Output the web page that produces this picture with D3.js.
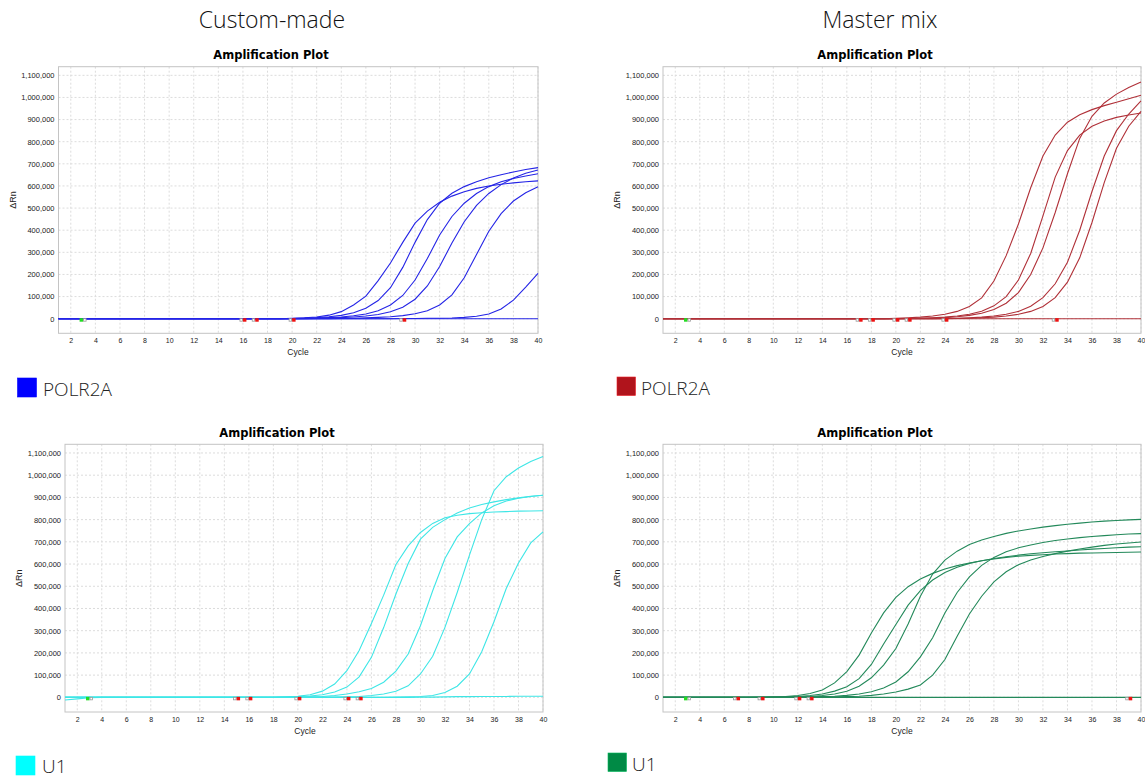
<!DOCTYPE html>
<html>
<head>
<meta charset="utf-8">
<script src="https://cdn.jsdelivr.net/npm/d3@7"></script>
<style>
  body { margin: 0; background: #fff; }
  svg { display: block; }
  .tick text { font-family: "Liberation Sans", Arial, sans-serif; fill: #222; }
</style>
</head>
<body>
<svg id="chart" width="1145" height="778"></svg>
<script>
// cycles 1..40 and axis ticks
const cycles = [1,2,3,4,5,6,7,8,9,10,11,12,13,14,15,16,17,18,19,20,21,22,23,24,25,26,27,28,29,30,31,32,33,34,35,36,37,38,39,40];
const xTicks = [2,4,6,8,10,12,14,16,18,20,22,24,26,28,30,32,34,36,38,40];
const yTicks = [0,100000,200000,300000,400000,500000,600000,700000,800000,900000,1000000,1100000];

// dRn per cycle, in thousands
// Custom-made, POLR2A
const customPolr2a = [
  [0,0,0,0,0,0,0,0,0,0,0,0,0,0,0,0,0,0,0,2,4,8,16,32,62,102,172,252,345,432,486,526,554,574,589,600,608,614,619,623],
  [0,0,0,0,0,0,0,0,0,0,0,0,0,0,0,0,0,0,0,1,3,5,9,15,27,47,82,140,232,345,448,522,567,597,619,637,651,663,674,683],
  [0,0,0,0,0,0,0,0,0,0,0,0,0,0,0,0,0,0,0,0,1,3,5,8,13,21,36,62,105,175,272,378,462,522,566,597,619,634,645,655],
  [0,0,0,0,0,0,0,0,0,0,0,0,0,0,0,0,0,0,0,0,0,1,3,5,8,12,19,31,52,88,148,236,342,438,512,566,606,636,657,672],
  [0,0,0,0,0,0,0,0,0,0,0,0,0,0,0,0,0,0,0,0,0,0,0,1,2,4,6,9,14,22,36,62,108,185,290,395,475,532,569,596],
  [0,0,0,0,0,0,0,0,0,0,0,0,0,0,0,0,0,0,0,0,0,0,0,0,0,0,0,0,1,1,2,2,3,6,11,21,44,84,143,205],
  [0,0,0,0,0,0,0,0,0,0,0,0,0,0,0,0,0,0,0,0,0,0,0,0,0,0,0,0,0,0,0,0,0,0,0,0,0,0,0,0]
];
// Master mix, POLR2A
const masterPolr2a = [
  [0,0,0,0,0,0,0,0,0,0,0,0,0,0,0,0,0,0,0,2,4,7,12,20,33,55,94,170,285,428,592,735,830,888,922,945,963,978,994,1010],
  [0,0,0,0,0,0,0,0,0,0,0,0,0,0,0,0,0,0,0,0,1,2,4,7,12,20,34,58,100,175,295,465,640,760,830,870,894,910,921,930],
  [0,0,0,0,0,0,0,0,0,0,0,0,0,0,0,0,0,0,0,0,1,2,3,5,9,15,25,42,70,118,200,320,480,655,815,915,975,1015,1045,1070],
  [0,0,0,0,0,0,0,0,0,0,0,0,0,0,0,0,0,0,0,0,0,0,0,1,2,4,7,12,20,33,56,95,158,255,400,575,735,850,925,984],
  [0,0,0,0,0,0,0,0,0,0,0,0,0,0,0,0,0,0,0,0,0,0,0,0,1,2,4,7,12,20,33,55,95,165,275,435,615,770,870,937],
  [0,0,0,0,0,0,0,0,0,0,0,0,0,0,0,0,0,0,0,0,0,0,0,0,0,0,0,0,0,0,0,0,0,0,0,0,0,0,0,0]
];
// Custom-made, U1
const customU1 = [
  [0,0,0,0,0,0,0,0,0,0,0,0,0,0,0,0,0,0,2,5,12,28,60,120,211,332,460,598,682,742,783,808,820,827,831,834,836,838,839,840],
  [0,0,0,0,0,0,0,0,0,0,0,0,0,0,0,0,0,0,1,3,6,12,24,46,92,180,314,465,602,712,765,800,830,852,868,880,890,898,905,910],
  [0,0,0,0,0,0,0,0,0,0,0,0,0,0,0,0,0,0,0,0,2,4,8,15,25,40,68,118,195,322,480,625,722,782,830,862,884,896,904,910],
  [0,0,0,0,0,0,0,0,0,0,0,0,0,0,0,0,0,0,0,0,0,0,1,2,4,8,15,27,52,105,185,315,472,640,800,930,993,1032,1062,1084],
  [-12,-7,-2,0,0,0,0,0,0,0,0,0,0,0,0,0,0,0,0,0,0,0,0,0,0,0,0,1,2,4,8,22,50,105,205,340,490,605,695,745],
  [0,0,0,0,0,0,0,0,0,0,0,0,0,0,0,0,0,0,0,0,0,0,0,0,0,0,0,0,0,1,1,2,3,3,4,4,4,5,5,5]
];
// Master mix, U1
const masterU1 = [
  [0,0,0,0,0,0,0,0,1,2,4,8,17,33,65,116,190,290,380,450,498,533,558,578,593,605,615,623,630,635,639,642,645,647,649,650,651,652,653,654],
  [0,0,0,0,0,0,0,0,0,1,2,4,8,15,28,48,84,148,240,328,415,480,528,562,586,603,615,625,633,640,646,651,655,659,663,667,670,673,676,678],
  [0,0,0,0,0,0,0,0,0,0,1,2,4,8,15,27,50,88,145,220,330,455,555,618,658,688,708,724,738,749,758,766,773,779,784,789,793,796,799,801],
  [0,0,0,0,0,0,0,0,0,0,0,1,2,3,5,9,15,25,42,69,115,182,268,380,472,542,594,630,655,673,686,697,706,713,719,724,728,732,735,737],
  [0,0,0,0,0,0,0,0,0,0,0,0,0,1,2,3,5,9,15,24,37,56,100,170,275,375,455,520,565,597,618,634,647,658,668,676,684,690,695,699],
  [0,0,0,0,0,0,0,0,0,0,0,0,0,0,0,0,0,0,0,0,0,0,0,0,0,0,0,0,0,0,0,0,0,0,0,0,0,0,0,0]
];

// Ct / baseline markers on the zero line
const customPolr2aMarks = [16, 17, 20, 29];
const masterPolr2aMarks = [17, 18, 20, 21, 24, 33];
const customU1Marks = [15, 16, 20, 24, 25];
const masterU1Marks = [7, 9, 12, 13, 39];
const startMark = 3;

const headers = ['Custom-made', 'Master mix'];
const legendNames = ['POLR2A', 'POLR2A', 'U1', 'U1'];

const svg = d3.select('#chart');

// Panels: plot frame, label positions, colors
const panels = [
  { curves: customPolr2a, marks: customPolr2aMarks, color: '#2424e6', legendColor: '#0000ff', name: legendNames[0],
    left: 58.5, right: 538, top: 66.7, bottom: 333.3, titleX: 271, titleY: 59, yLabelX: 13, cycleX: 298,
    legend: { x: 17.5, y: 378, s: 19, tx: 43, ty: 396, fs: 19 } },
  { curves: masterPolr2a, marks: masterPolr2aMarks, color: '#b03038', legendColor: '#b0141c', name: legendNames[1],
    left: 663, right: 1141, top: 66.7, bottom: 333.3, titleX: 875, titleY: 59, yLabelX: 617, cycleX: 902,
    legend: { x: 617, y: 377, s: 18.5, tx: 641, ty: 395, fs: 19 } },
  { curves: customU1, marks: customU1Marks, color: '#3ee6e6', legendColor: '#00ffff', name: legendNames[2],
    left: 65, right: 543, top: 444.3, bottom: 712, titleX: 277, titleY: 437, yLabelX: 19, cycleX: 305,
    legend: { x: 16, y: 756, s: 19, tx: 42, ty: 773, fs: 19 } },
  { curves: masterU1, marks: masterU1Marks, color: '#23895a', legendColor: '#008a45', name: legendNames[3],
    left: 663, right: 1141, top: 444.3, bottom: 712, titleX: 875, titleY: 437, yLabelX: 617, cycleX: 902,
    legend: { x: 608, y: 753, s: 18.5, tx: 632, ty: 771, fs: 19 } }
];

// column headers
svg.selectAll('text.header')
  .data(headers)
  .enter()
  .append('text')
  .attr('class', 'header')
  .attr('x', (d, i) => i === 0 ? 272 : 880)
  .attr('y', 28)
  .attr('text-anchor', 'middle')
  .style('font-family', '"Open Sans", "Noto Sans", sans-serif')
  .style('font-weight', 300)
  .style('font-size', '23px')
  .style('fill', '#111')
  .text(d => d);

panels.forEach(p => drawPanel(p));

function drawPanel(p) {
  const g = svg.append('g');

  const x = d3.scaleLinear().domain([1, 40]).range([p.left, p.right]);
  const y = d3.scaleLinear().domain([-66000, 1139000]).range([p.bottom, p.top]);

  // dashed grid
  g.selectAll('line.vgrid')
    .data(xTicks)
    .enter()
    .append('line')
    .attr('x1', d => x(d)).attr('x2', d => x(d))
    .attr('y1', p.top).attr('y2', p.bottom)
    .attr('stroke', '#dcdcdc')
    .attr('stroke-dasharray', '2,2');

  g.selectAll('line.hgrid')
    .data(yTicks)
    .enter()
    .append('line')
    .attr('x1', p.left).attr('x2', p.right)
    .attr('y1', d => y(d)).attr('y2', d => y(d))
    .attr('stroke', '#dcdcdc')
    .attr('stroke-dasharray', '2,2');

  // axes (labels only, frame drawn separately)
  const yAxis = g.append('g')
    .attr('transform', `translate(${p.left},0)`)
    .call(d3.axisLeft(y).tickValues(yTicks).tickFormat(d3.format(',')).tickSize(0).tickPadding(4));
  yAxis.select('.domain').remove();
  yAxis.selectAll('text').style('font-size', '7.5px');

  const xAxis = g.append('g')
    .attr('transform', `translate(0,${p.bottom})`)
    .call(d3.axisBottom(x).tickValues(xTicks).tickSize(0).tickPadding(5));
  xAxis.select('.domain').remove();
  xAxis.selectAll('text').style('font-size', '7px');

  // frame
  g.append('rect')
    .attr('x', p.left).attr('y', p.top)
    .attr('width', p.right - p.left).attr('height', p.bottom - p.top)
    .attr('fill', 'none')
    .attr('stroke', '#c4c4c4')
    .attr('stroke-width', 1);

  // title and axis labels
  g.append('text')
    .attr('x', p.titleX).attr('y', p.titleY)
    .attr('text-anchor', 'middle')
    .style('font-family', '"DejaVu Sans", Verdana, sans-serif')
    .style('font-weight', 'bold')
    .style('font-size', '11.5px')
    .style('fill', '#000')
    .text('Amplification Plot');

  g.append('text')
    .attr('x', p.cycleX).attr('y', p.bottom + 22)
    .attr('text-anchor', 'middle')
    .style('font-family', '"Liberation Sans", Arial, sans-serif')
    .style('font-size', '8.5px')
    .style('fill', '#222')
    .text('Cycle');

  g.append('text')
    .attr('transform', `translate(${p.yLabelX},${(p.top + p.bottom) / 2}) rotate(-90)`)
    .attr('text-anchor', 'middle')
    .attr('dy', '0.35em')
    .style('font-family', '"Liberation Sans", Arial, sans-serif')
    .style('font-size', '9px')
    .style('fill', '#222')
    .text('ΔRn');

  // amplification curves
  const line = d3.line()
    .x((d, i) => x(cycles[i]))
    .y(d => y(d * 1000));

  g.selectAll('path.curve')
    .data(p.curves)
    .enter()
    .append('path')
    .attr('class', 'curve')
    .attr('d', d => line(d))
    .attr('fill', 'none')
    .attr('stroke', p.color)
    .attr('stroke-width', 1.1);

  // markers on the zero line
  const y0 = y(0);
  g.append('rect')
    .attr('x', x(startMark) - 3.5).attr('y', y0 - 0.5)
    .attr('width', 3.5).attr('height', 3.5)
    .attr('fill', '#22dd22');
  g.append('rect')
    .attr('x', x(startMark) + 0.5).attr('y', y0)
    .attr('width', 2.5).attr('height', 2.5)
    .attr('fill', '#fff').attr('stroke', '#999').attr('stroke-width', 0.8);

  const m = g.selectAll('g.mark')
    .data(p.marks)
    .enter()
    .append('g')
    .attr('class', 'mark');
  m.append('rect')
    .attr('x', d => x(d) - 3).attr('y', y0)
    .attr('width', 2.5).attr('height', 2.5)
    .attr('fill', '#fff').attr('stroke', '#999').attr('stroke-width', 0.8);
  m.append('rect')
    .attr('x', d => x(d)).attr('y', y0 - 0.5)
    .attr('width', 3.5).attr('height', 3.5)
    .attr('fill', '#ee1111');

  // legend
  const L = p.legend;
  svg.append('rect')
    .attr('x', L.x).attr('y', L.y)
    .attr('width', L.s).attr('height', L.s)
    .attr('fill', p.legendColor)
    .attr('stroke', d3.color(p.legendColor).brighter(0.8))
    .attr('stroke-width', 0.6);
  svg.append('text')
    .attr('x', L.tx).attr('y', L.ty)
    .style('font-family', '"Open Sans", "Noto Sans", sans-serif')
    .style('font-weight', 300)
    .style('font-size', L.fs + 'px')
    .style('fill', '#222')
    .text(p.name);
}
</script>
</body>
</html>
